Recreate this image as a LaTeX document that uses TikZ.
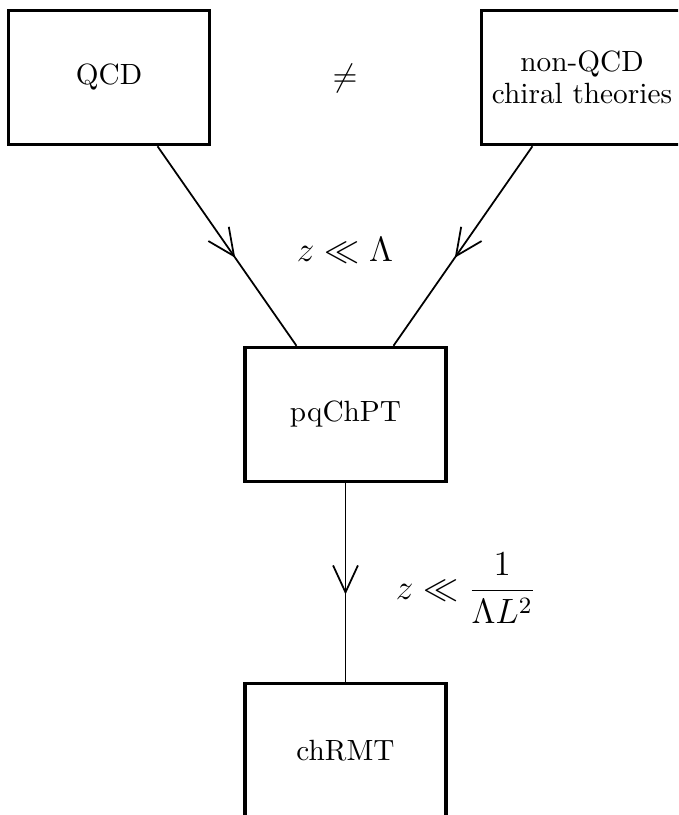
\documentclass[tikz,border=0pt]{standalone}
\usetikzlibrary{arrows.meta,decorations.markings,calc}
\begin{document}
\begin{tikzpicture}[x=0.3415pt,y=-0.3415pt,
  theory/.style={draw,line width=1.15pt,minimum width=68.6pt,minimum height=45.8pt,inner sep=0pt,align=center,font=\fontsize{10}{11}\selectfont},
  flow/.style={line width=0.6pt,decoration={markings,mark=at position 0.56 with {\arrow{Straight Barb[length=9.2pt,width=8.5pt]}}},postaction={decorate}},
  lbl/.style={inner sep=0pt,font=\fontsize{11.5}{14}\selectfont}]
\clip (0,0) rectangle (678,815);
\node[theory] (qcd) at (109,77.5) {QCD};
\node[theory] (nqcd) at (582,77.5) {non-QCD\\chiral theories};
\node[theory] (pq) at (345.5,414.5) {pqChPT};
\node[theory] (ch) at (345.5,750.5) {chRMT};
\node[lbl,font=\fontsize{11}{13}\selectfont] (neq) at (345,78) {$\neq$};
\node[lbl] (l1) at (345,250) {$z \ll \Lambda$};
\node[lbl] (l2) at (466,588) {$\displaystyle z \ll \frac{1}{\Lambda L^2}$};
\draw[flow] ($(qcd.south)!0.475!(qcd.south east)$) -- ($(pq.north)!0.48!(pq.north west)$);
\draw[flow] ($(nqcd.south)!0.485!(nqcd.south west)$) -- ($(pq.north)!0.47!(pq.north east)$);
\draw[flow] (pq.south) -- (ch.north);
\end{tikzpicture}
\end{document}
